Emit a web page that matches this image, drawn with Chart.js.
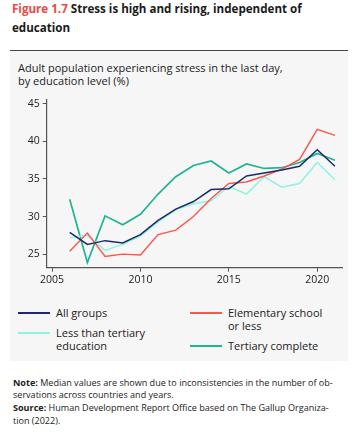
<!DOCTYPE html>
<html>
<head>
<meta charset="utf-8">
<script src="https://cdn.jsdelivr.net/npm/chart.js"></script>
<style>
  body { margin: 0; background: #fff; font-family: "Open Sans", sans-serif; color: #222; }
  .abs { position: absolute; white-space: nowrap; }
  #title { left: 12px; top: 0px; font-weight: 700; font-size: 11.6px; line-height: 18.5px; color: #1a1a1a; }
  #title span { color: #f0483e; }
  #rule { left: 10px; top: 50px; width: 338px; height: 1px; background: #444; }
  #panel { left: 10px; top: 51px; width: 338px; height: 310px; background: #f6f6f6; }
  #sub { left: 18px; top: 61px; font-size: 11px; line-height: 13px; color: #222; }
  #chartBox { left: 10px; top: 90px; width: 340px; height: 200px; }
  .leg { font-size: 11px; line-height: 13px; color: #222; }
  .sw { position: absolute; height: 1.5px; width: 32px; }
  #notes { left: 13px; top: 376.5px; font-size: 9.05px; line-height: 12.8px; color: #222; }
</style>
</head>
<body>
<div id="title" class="abs"><span>Figure 1.7</span> Stress is high and rising, independent of<br>education</div>
<div id="rule" class="abs"></div>
<div id="panel" class="abs"></div>
<div id="sub" class="abs">Adult population experiencing stress in the last day,<br>by education level (%)</div>
<div id="chartBox" class="abs"><canvas id="c"></canvas></div>
<div id="legend"></div>
<div id="notes" class="abs"><b>Note:</b> Median values are shown due to inconsistencies in the number of ob-<br>servations across countries and years.<br><b>Source:</b> Human Development Report Office based on The Gallup Organiza-<br>tion (2022).</div>
<script>
const years = [2006, 2007, 2008, 2009, 2010, 2011, 2012, 2013, 2014, 2015, 2016, 2017, 2018, 2019, 2020, 2021];
const allGroups    = [27.9, 26.3, 26.8, 26.5, 27.6, 29.5, 31.0, 32.0, 33.6, 33.7, 35.4, 35.8, 36.2, 36.7, 38.9, 36.7];
const elementary   = [25.4, 27.8, 24.7, 25.0, 24.9, 27.6, 28.2, 30.0, 32.4, 34.4, 34.6, 35.4, 36.3, 37.6, 41.6, 40.8];
const lessTertiary = [27.2, 27.5, 25.5, 26.3, 27.4, 29.3, 30.9, 31.7, 32.1, 34.0, 33.0, 35.3, 33.9, 34.4, 37.2, 34.9];
const tertiary     = [32.3, 23.9, 30.1, 28.9, 30.3, 33.0, 35.3, 36.8, 37.4, 35.8, 37.0, 36.4, 36.5, 37.2, 38.4, 37.5];
const xTicks = [2005, 2010, 2015, 2020];
const yTicks = [25, 30, 35, 40, 45];

const series = [
  { label: 'All groups', values: allGroups, color: '#1c2a6b', width: 1.5 },
  { label: 'Elementary school\nor less', values: elementary, color: '#ff5449', width: 1.4 },
  { label: 'Less than tertiary\neducation', values: lessTertiary, color: '#8ff3e2', width: 1.5 },
  { label: 'Tertiary complete', values: tertiary, color: '#1fb592', width: 1.7 }
];

// legend, two columns
const legPos = [
  { x: 18, y: 313 }, { x: 190, y: 313 }, { x: 18, y: 333 }, { x: 190, y: 346 }
];
const legend = document.getElementById('legend');
series.forEach((s, i) => {
  const p = legPos[i];
  const sw = document.createElement('div');
  sw.className = 'sw';
  sw.style.left = p.x + 'px';
  sw.style.top = (p.y - s.width / 2) + 'px';
  sw.style.height = (s.width + 0.3) + 'px';
  sw.style.background = s.color;
  legend.appendChild(sw);
  const t = document.createElement('div');
  t.className = 'abs leg';
  t.style.left = (p.x + 38) + 'px';
  t.style.top = (p.y - 7) + 'px';
  t.innerHTML = s.label.replace('\n', '<br>');
  legend.appendChild(t);
});

const axisColor = '#555';
const tickFont = { family: 'Open Sans', size: 10.5 };

new Chart(document.getElementById('c').getContext('2d'), {
  type: 'line',
  data: {
    datasets: series.map(s => ({
      label: s.label,
      data: years.map((y, i) => ({ x: y, y: s.values[i] })),
      borderColor: s.color,
      borderWidth: s.width,
      pointRadius: 0,
      tension: 0,
      fill: false
    }))
  },
  options: {
    responsive: true,
    maintainAspectRatio: false,
    animation: false,
    layout: { padding: { top: 9, right: 8, left: 0, bottom: 0 } },
    plugins: { legend: { display: false }, tooltip: { enabled: false } },
    scales: {
      x: {
        type: 'linear',
        min: 2004.7,
        max: 2021.4,
        afterBuildTicks: sc => { sc.ticks = xTicks.map(v => ({ value: v })); },
        afterFit: sc => { sc.height = 22.3; },
        border: { color: axisColor, width: 1.2 },
        grid: { drawOnChartArea: false, drawTicks: true, tickLength: 4, color: axisColor },
        ticks: { color: '#222', font: tickFont, padding: 2, maxRotation: 0, callback: v => String(v) }
      },
      y: {
        min: 23.2,
        max: 45.6,
        afterBuildTicks: sc => { sc.ticks = yTicks.map(v => ({ value: v })); },
        afterFit: sc => { sc.width = 36.7; },
        border: { color: axisColor, width: 1.2 },
        grid: { drawOnChartArea: false, drawTicks: true, tickLength: 4, color: axisColor },
        ticks: { color: '#222', font: tickFont, padding: 3 }
      }
    }
  }
});
</script>
</body>
</html>
